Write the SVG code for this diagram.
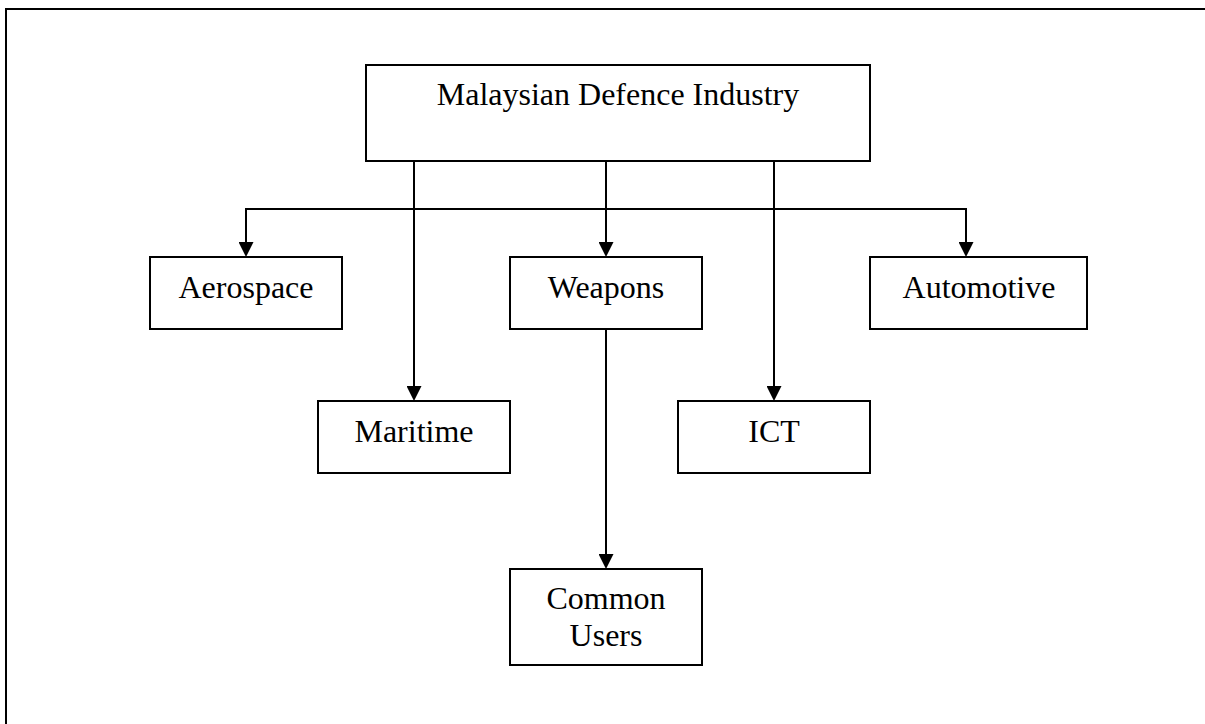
<svg xmlns="http://www.w3.org/2000/svg" width="1205" height="724" viewBox="0 0 1205 724">
  <style>
    .box { fill: #ffffff; stroke: #000000; stroke-width: 2; }
    .label { font-family: "Liberation Serif", "Times New Roman", serif; font-size: 32px; fill: #000000; text-anchor: middle; }
    .wire { fill: none; stroke: #000000; stroke-width: 2; }
    .frame { fill: none; stroke: #000000; stroke-width: 2; }
  </style>
  <defs>
    <marker id="arrow" viewBox="0 0 15 15" refX="10" refY="7.5" markerWidth="15" markerHeight="15" markerUnits="userSpaceOnUse" orient="auto">
      <path d="M0,0 L15,7.5 L0,15 Z" fill="#000000"/>
    </marker>
  </defs>

  <rect width="1205" height="724" fill="#ffffff"/>

  <!-- page frame: left and top rules -->
  <path class="frame" d="M6,724 V9 H1205"/>

  <!-- connectors -->
  <g id="connectors">
    <!-- distribution bus, left branch to Aerospace -->
    <path class="wire" d="M606,209 H246 V252" marker-end="url(#arrow)"/>
    <!-- distribution bus, right branch to Automotive -->
    <path class="wire" d="M606,209 H966 V252" marker-end="url(#arrow)"/>
    <path class="wire" d="M414,161 V396" marker-end="url(#arrow)"/>
    <path class="wire" d="M606,161 V252" marker-end="url(#arrow)"/>
    <path class="wire" d="M774,161 V396" marker-end="url(#arrow)"/>
    <path class="wire" d="M606,329 V564" marker-end="url(#arrow)"/>
  </g>

  <g id="node-industry">
    <rect class="box" x="366" y="65" width="504" height="96"/>
    <text class="label" x="618" y="105">Malaysian Defence Industry</text>
  </g>

  <g id="node-aerospace">
    <rect class="box" x="150" y="257" width="192" height="72"/>
    <text class="label" x="246" y="298">Aerospace</text>
  </g>

  <g id="node-weapons">
    <rect class="box" x="510" y="257" width="192" height="72"/>
    <text class="label" x="606" y="298">Weapons</text>
  </g>

  <g id="node-automotive">
    <rect class="box" x="870" y="257" width="217" height="72"/>
    <text class="label" x="979" y="298">Automotive</text>
  </g>

  <g id="node-maritime">
    <rect class="box" x="318" y="401" width="192" height="72"/>
    <text class="label" x="414" y="442">Maritime</text>
  </g>

  <g id="node-ict">
    <rect class="box" x="678" y="401" width="192" height="72"/>
    <text class="label" x="774" y="442">ICT</text>
  </g>

  <g id="node-common-users">
    <rect class="box" x="510" y="569" width="192" height="96"/>
    <text class="label" x="606" y="609">Common</text>
    <text class="label" x="606" y="646">Users</text>
  </g>
</svg>
